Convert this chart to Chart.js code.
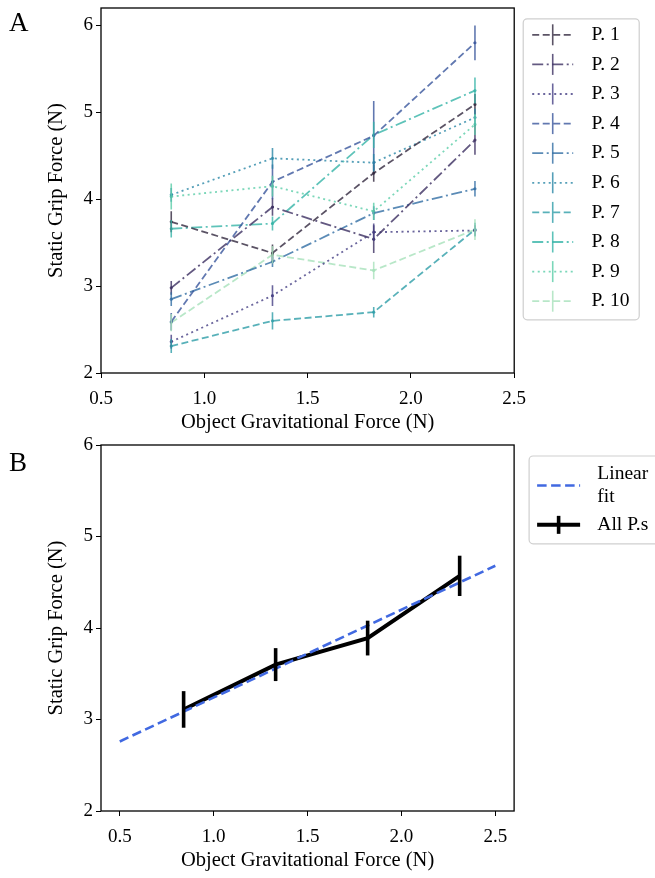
<!DOCTYPE html>
<html>
<head>
<meta charset="utf-8">
<script src="https://cdn.jsdelivr.net/npm/chart.js@4.4.0/dist/chart.umd.min.js"></script>
<style>
  body { margin: 0; background: #fff; overflow: hidden; width: 655px; height: 878px; position: relative; }
  #wrapA { position: absolute; left: 0; top: 0; width: 655px; height: 440px; }
  #wrapB { position: absolute; left: 0; top: 420px; width: 700px; height: 458px; }
  .panel { position: absolute; font-family: "Liberation Serif", serif; font-size: 27px; color: #000; line-height: 1; }
</style>
</head>
<body>
<div id="wrapA"><canvas id="chartA"></canvas></div>
<div id="wrapB"><canvas id="chartB"></canvas></div>
<div class="panel" style="left:9px;top:9px">A</div>
<div class="panel" style="left:9px;top:449px">B</div>
<script>
// DATA
const forceX = [0.84, 1.33, 1.82, 2.31];

const p1 = [3.74, 3.38, 4.30, 5.09];
const p2 = [2.98, 3.91, 3.54, 4.68];
const p3 = [2.36, 2.89, 3.62, 3.64];
const p4 = [2.59, 4.20, 4.73, 5.80];
const p5 = [2.85, 3.28, 3.84, 4.12];
const p6 = [4.05, 4.47, 4.42, 4.94];
const p7 = [2.31, 2.60, 2.70, 3.65];
const p8 = [3.66, 3.72, 4.74, 5.25];
const p9 = [4.03, 4.15, 3.86, 4.86];
const p10 = [2.58, 3.36, 3.18, 3.65];

const p1Err = [0.12, 0.10, 0.10, 0.12];
const p2Err = [0.08, 0.10, 0.16, 0.17];
const p3Err = [0.08, 0.12, 0.10, 0.06];
const p4Err = [0.10, 0.20, 0.40, 0.20];
const p5Err = [0.08, 0.06, 0.08, 0.09];
const p6Err = [0.08, 0.12, 0.10, 0.10];
const p7Err = [0.08, 0.10, 0.06, 0.08];
const p8Err = [0.10, 0.08, 0.15, 0.15];
const p9Err = [0.15, 0.12, 0.10, 0.12];
const p10Err = [0.10, 0.10, 0.10, 0.12];

const participantNames = ["P. 1", "P. 2", "P. 3", "P. 4", "P. 5", "P. 6", "P. 7", "P. 8", "P. 9", "P. 10"];

const allMean = [3.11, 3.60, 3.89, 4.57];
const allErr = [0.20, 0.18, 0.19, 0.22];

const fitX = [0.5, 2.5];
const fitY = [2.76, 4.68];

const xTicks = [0.5, 1.0, 1.5, 2.0, 2.5];
const yTicks = [2, 3, 4, 5, 6];

// STYLE
const participantColors = [
  "rgba(50,40,62,0.8)", "rgba(60,48,98,0.8)", "rgba(70,64,133,0.8)", "rgba(58,86,156,0.8)",
  "rgba(50,110,164,0.8)", "rgba(43,135,166,0.8)", "rgba(46,158,168,0.8)", "rgba(54,180,168,0.8)",
  "rgba(90,205,168,0.8)", "rgba(166,225,186,0.8)"
];
const dashPatterns = [[7, 3.5], [11, 3.5, 2, 3.5], [2, 3.5]];

const serif = "'Liberation Serif', 'Times New Roman', serif";
Chart.defaults.color = "#000";
Chart.defaults.font.family = serif;

const participantValues = [p1, p2, p3, p4, p5, p6, p7, p8, p9, p10];
const participantErrs = [p1Err, p2Err, p3Err, p4Err, p5Err, p6Err, p7Err, p8Err, p9Err, p10Err];

// error bars drawn through the scales
const errorBars = {
  id: "errorBars",
  afterDatasetsDraw(chart) {
    const ctx = chart.ctx;
    const xs = chart.scales.x, ys = chart.scales.y;
    ctx.save();
    ctx.beginPath();
    ctx.rect(chart.chartArea.left, chart.chartArea.top, chart.chartArea.width, chart.chartArea.height);
    ctx.clip();
    chart.data.datasets.forEach(ds => {
      if (!ds.errors) return;
      ctx.strokeStyle = ds.borderColor;
      ctx.lineWidth = ds.errWidth || ds.borderWidth;
      ctx.setLineDash([]);
      ds.data.forEach((pt, j) => {
        const px = xs.getPixelForValue(pt.x);
        ctx.beginPath();
        ctx.moveTo(px, ys.getPixelForValue(pt.y - ds.errors[j]));
        ctx.lineTo(px, ys.getPixelForValue(pt.y + ds.errors[j]));
        ctx.stroke();
      });
    });
    ctx.restore();
  }
};

// box round the plot
const frame = {
  id: "frame",
  afterDraw(chart) {
    const a = chart.chartArea, ctx = chart.ctx;
    ctx.save();
    ctx.strokeStyle = "#000";
    ctx.lineWidth = 1.3;
    ctx.strokeRect(a.left, a.top, a.width, a.height);
    ctx.restore();
  }
};

// legend frame and line samples
const legendSamples = {
  id: "legendSamples",
  afterDraw(chart, args, opts) {
    const lg = chart.legend;
    if (!lg || !lg.legendHitBoxes || !lg.legendHitBoxes.length) return;
    const ctx = chart.ctx, hb = lg.legendHitBoxes;
    const first = hb[0], last = hb[hb.length - 1];
    const bx = lg.left + opts.boxDx, by = first.top - opts.padTop;
    const bh = last.top + last.height + opts.padBottom - by;
    ctx.save();
    ctx.strokeStyle = "#cfcfcf";
    ctx.lineWidth = 1.2;
    ctx.beginPath();
    ctx.roundRect(bx, by, opts.boxW, bh, 4);
    ctx.stroke();
    chart.data.datasets.forEach((ds, i) => {
      const h = hb[i];
      if (!h) return;
      const cy = h.top + h.height / 2;
      const x0 = h.left, x1 = h.left + opts.sampleW;
      ctx.strokeStyle = ds.borderColor;
      ctx.lineWidth = ds.borderWidth;
      ctx.setLineDash(ds.borderDash || []);
      ctx.beginPath();
      ctx.moveTo(x0, cy);
      ctx.lineTo(x1, cy);
      ctx.stroke();
      if (ds.errors) {
        ctx.setLineDash([]);
        ctx.lineWidth = ds.errWidth || ds.borderWidth;
        const cx = (x0 + x1) / 2;
        ctx.beginPath();
        ctx.moveTo(cx, cy - opts.tick);
        ctx.lineTo(cx, cy + opts.tick);
        ctx.stroke();
      }
    });
    ctx.restore();
  }
};

function hiddenLabels(chart) {
  return chart.data.datasets.map((ds, i) => ({
    text: ds.label,
    fillStyle: "rgba(0,0,0,0)",
    strokeStyle: "rgba(0,0,0,0)",
    lineWidth: 0,
    hidden: false,
    datasetIndex: i
  }));
}

function noPadding(s) {
  s.paddingTop = 0;
  s.paddingBottom = 0;
  s.paddingLeft = 0;
  s.paddingRight = 0;
}

function axisX(padTitle) {
  return {
    type: "linear",
    grid: { display: true, drawOnChartArea: false, drawTicks: true, tickLength: 5, color: "#000", lineWidth: 1 },
    border: { display: false },
    ticks: { font: { size: 19 }, padding: 10, callback: v => v.toFixed(1) },
    afterBuildTicks: s => { s.ticks = xTicks.map(v => ({ value: v })); },
    afterFit: s => { s.height = 67; noPadding(s); },
    title: { display: true, text: "Object Gravitational Force (N)", font: { size: 20.5 }, padding: { top: 0, bottom: padTitle } }
  };
}

function axisY(min, max) {
  return {
    type: "linear",
    min: min,
    max: max,
    grid: { display: true, drawOnChartArea: false, drawTicks: true, tickLength: 5, color: "#000", lineWidth: 1 },
    border: { display: false },
    ticks: { font: { size: 19 }, padding: 3 },
    afterBuildTicks: s => { s.ticks = yTicks.map(v => ({ value: v })); },
    afterFit: s => { s.width = 101; noPadding(s); },
    title: { display: true, text: "Static Grip Force (N)", font: { size: 20.5 }, padding: { top: 44.7, bottom: 0 } }
  };
}

function spacer(w) {
  return {
    type: "linear",
    position: "right",
    display: true,
    grid: { display: false },
    border: { display: false },
    ticks: { display: false },
    afterFit: s => { s.width = w; noPadding(s); }
  };
}

// CHART A
const participantDatasets = participantNames.map((name, i) => ({
  label: name,
  data: forceX.map((x, j) => ({ x: x, y: participantValues[i][j] })),
  errors: participantErrs[i],
  borderColor: participantColors[i],
  backgroundColor: participantColors[i],
  borderWidth: 1.8,
  errWidth: 1.6,
  borderDash: dashPatterns[i % 3],
  pointRadius: 1.6,
  pointBorderWidth: 0,
  tension: 0,
  fill: false
}));

new Chart(document.querySelector("#chartA"), {
  type: "line",
  data: { datasets: participantDatasets },
  options: {
    responsive: true,
    maintainAspectRatio: false,
    animation: false,
    layout: { padding: { top: 8, right: 15.6, bottom: 0, left: 0 } },
    scales: { x: Object.assign(axisX(4.7), { min: 0.5, max: 2.5 }), y: axisY(2, 6.2), y2: spacer(10.4) },
    plugins: {
      tooltip: { enabled: false },
      legend: {
        position: "right",
        align: "start",
        fullSize: false,
        maxWidth: 300,
        title: { display: true, text: "", font: { size: 1 }, padding: { top: 7, bottom: 0 } },
        labels: { font: { size: 19.5 }, boxWidth: 49.5, boxHeight: 22, padding: 7.6, generateLabels: hiddenLabels }
      },
      legendSamples: { boxDx: -1.4, boxW: 116, padTop: 5, padBottom: 7.6, sampleW: 41, tick: 10.5 }
    }
  },
  plugins: [errorBars, frame, legendSamples]
});

// CHART B
new Chart(document.querySelector("#chartB"), {
  type: "line",
  data: {
    datasets: [
      {
        label: ["Linear", "fit"],
        data: fitX.map((x, j) => ({ x: x, y: fitY[j] })),
        borderColor: "#4169e1",
        borderWidth: 2.6,
        borderDash: [9.5, 4.5],
        pointRadius: 0,
        tension: 0,
        fill: false
      },
      {
        label: "All P.s",
        data: forceX.map((x, j) => ({ x: x, y: allMean[j] })),
        errors: allErr,
        borderColor: "#000",
        borderWidth: 4,
        errWidth: 3.6,
        pointRadius: 0,
        tension: 0,
        fill: false
      }
    ]
  },
  options: {
    responsive: true,
    maintainAspectRatio: false,
    animation: false,
    layout: { padding: { top: 25, right: 41.7, bottom: 0, left: 0 } },
    scales: { x: Object.assign(axisX(4.7), { min: 0.4, max: 2.6 }), y: axisY(2, 6), y2: spacer(17) },
    plugins: {
      tooltip: { enabled: false },
      legend: {
        position: "right",
        align: "start",
        fullSize: false,
        maxWidth: 300,
        title: { display: true, text: "", font: { size: 1 }, padding: { top: 10.8, bottom: 0 } },
        labels: { font: { size: 19.5, lineHeight: 1.15 }, boxWidth: 50.5, boxHeight: 22, padding: 6, generateLabels: hiddenLabels }
      },
      legendSamples: { boxDx: -2, boxW: 160, padTop: 7, padBottom: 8, sampleW: 43, tick: 9 }
    }
  },
  plugins: [errorBars, frame, legendSamples]
});
</script>
</body>
</html>
